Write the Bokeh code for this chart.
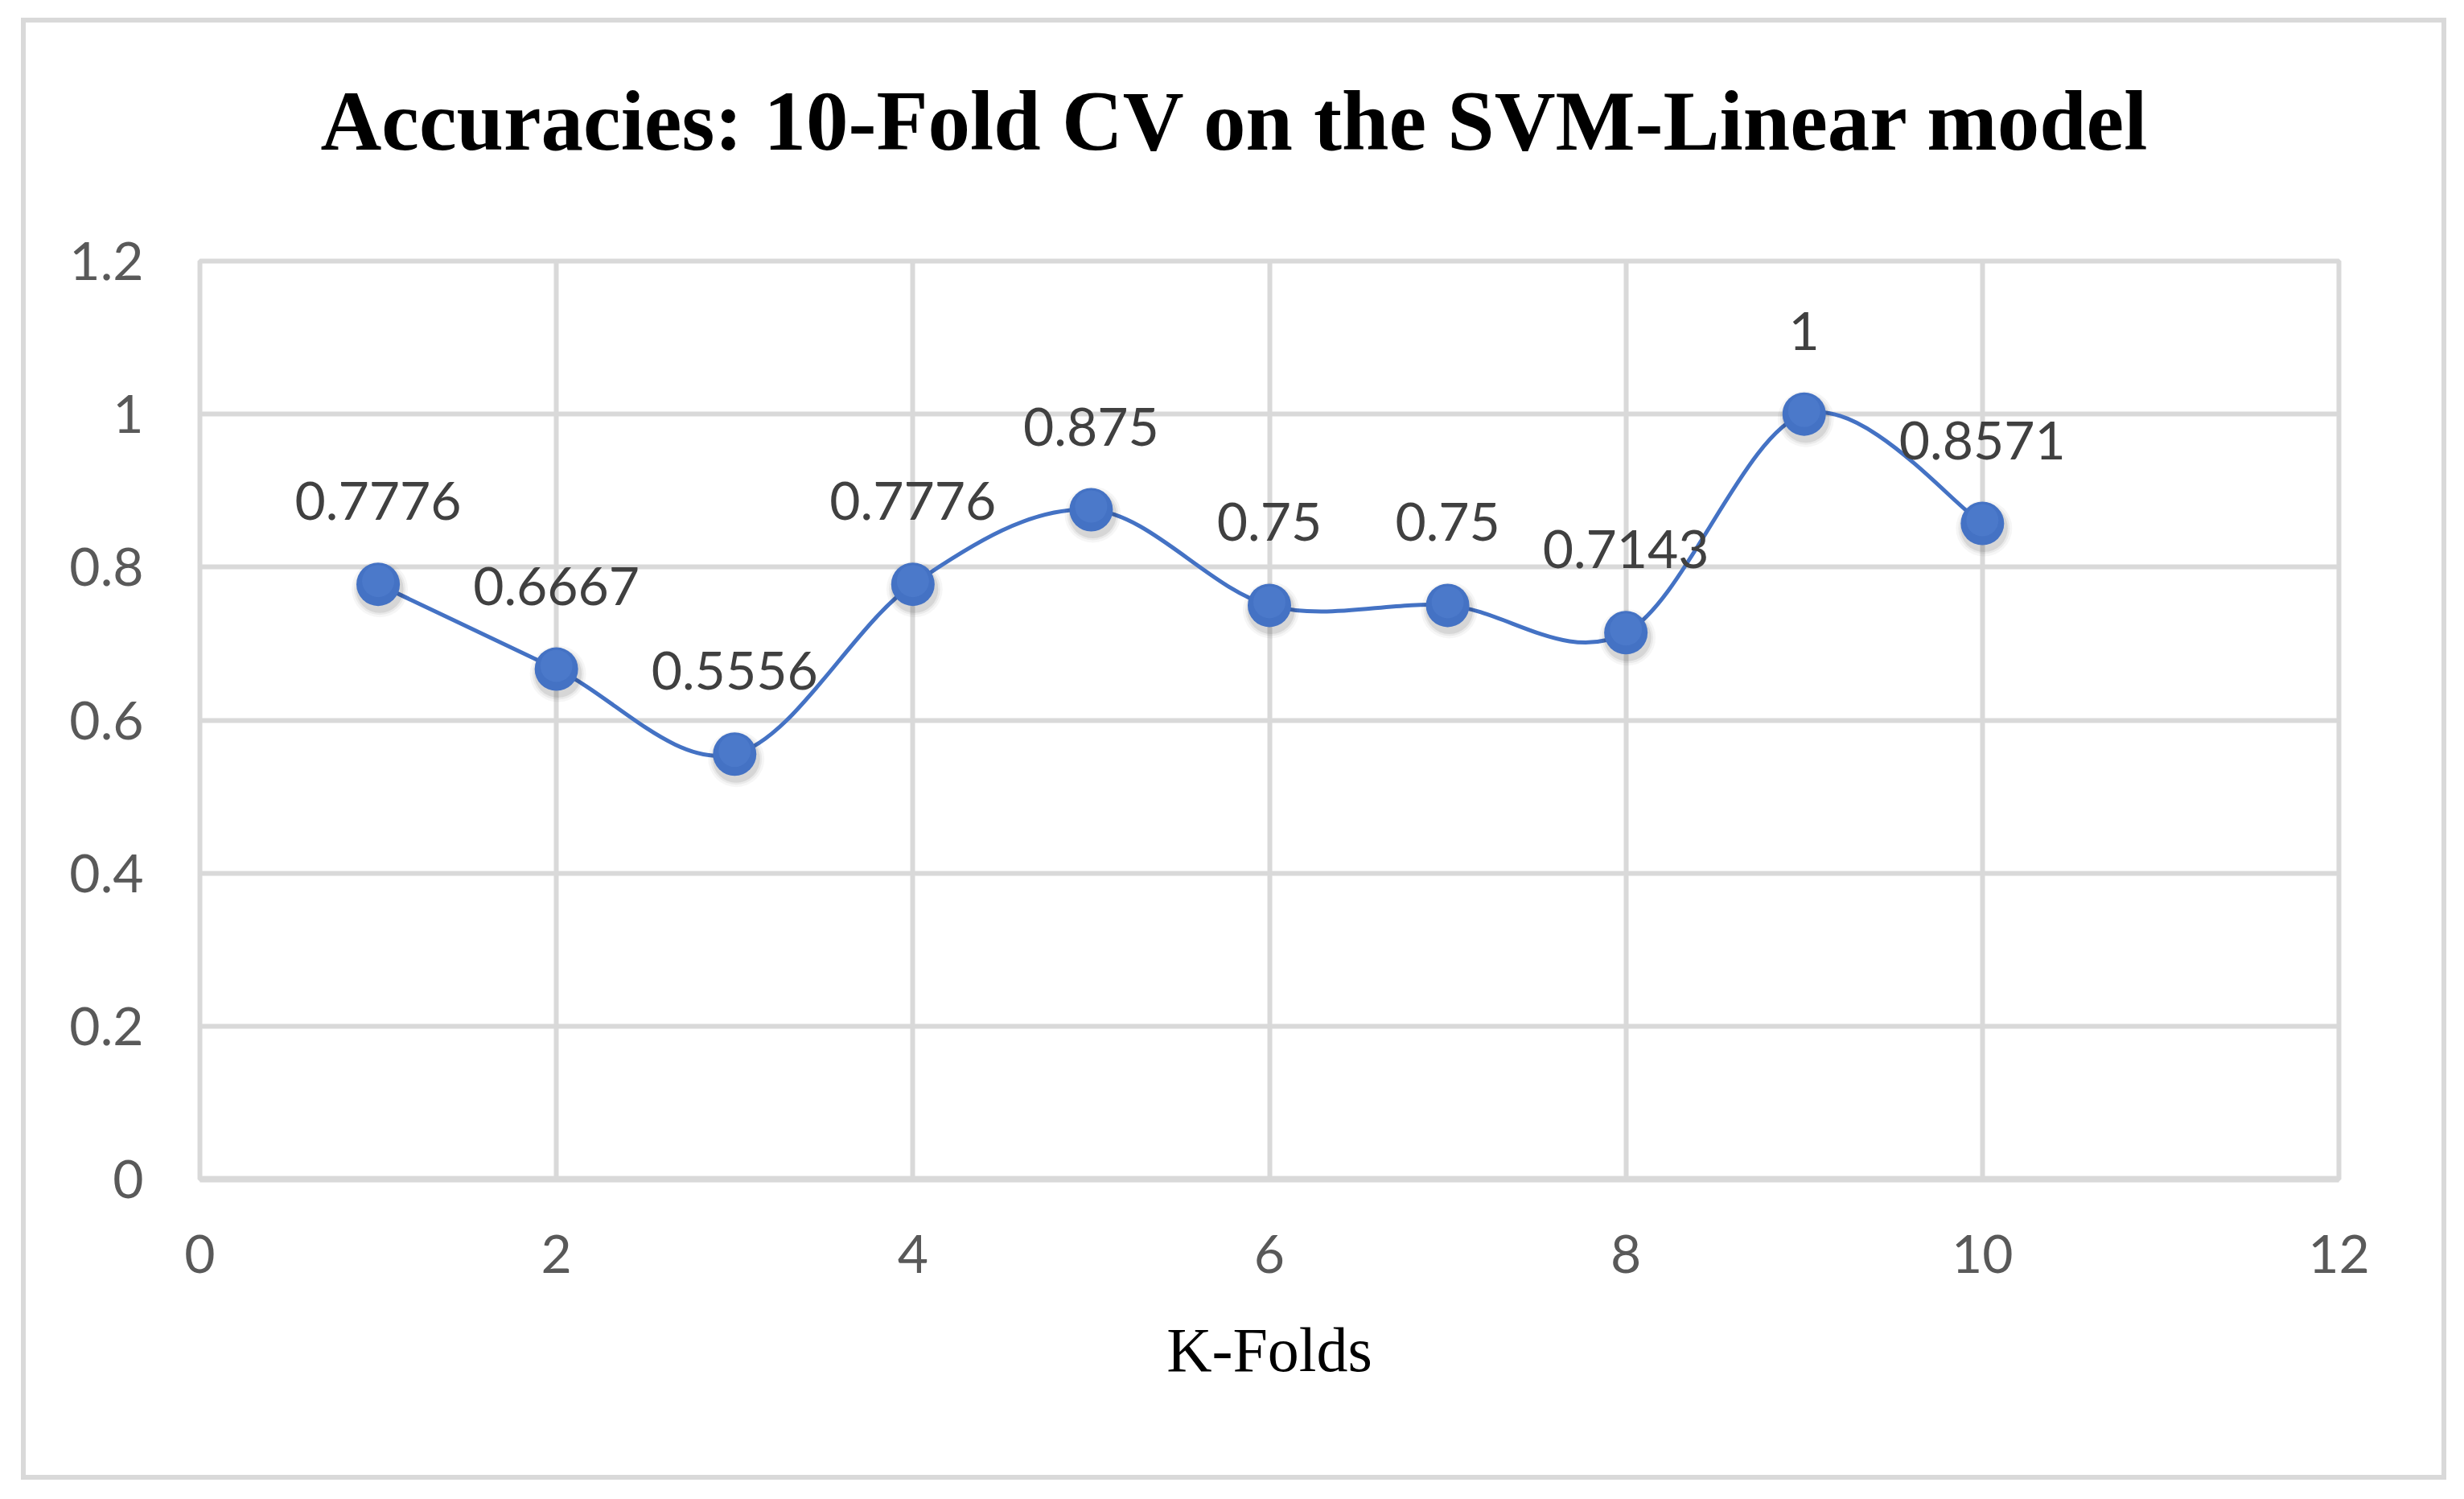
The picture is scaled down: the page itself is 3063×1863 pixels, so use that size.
from bokeh.plotting import figure
from bokeh.layouts import column
from bokeh.models import ColumnDataSource, LabelSet, FixedTicker, Range1d, Title
from bokeh.core.properties import value
from bokeh.embed import file_html
from bokeh.resources import INLINE

# ---- data ----
folds = [1, 2, 3, 4, 5, 6, 7, 8, 9, 10]
accuracy = [0.7776, 0.6667, 0.5556, 0.7776, 0.875, 0.75, 0.75, 0.7143, 1.0, 0.8571]
x_ticks = [0, 2, 4, 6, 8, 10, 12]
y_ticks = [0, 0.2, 0.4, 0.6, 0.8, 1.0, 1.2]
title_text = "Accuracies: 10-Fold CV on the SVM-Linear model"
x_title = "K-Folds"

W, H = 3003, 1805
FL, FR, FT, FB = 216, 2875, 296, 1437  # frame edges in canvas px

p = figure(width=W, height=H, output_backend="svg", toolbar_location=None,
           x_range=Range1d(0, 12), y_range=Range1d(0, 1.2),
           min_border_left=FL, min_border_right=W - FR,
           min_border_top=FT, min_border_bottom=H - FB,
           background_fill_color="white", border_fill_color="white")

# title
p.title.text = title_text
p.title.text_font = "Liberation Serif"
p.title.text_font_style = "bold"
p.title.text_font_size = "105px"
p.title.text_color = "#000000"
p.title.align = "left"
p.title.offset = 150
p.title.vertical_align = "bottom"
p.title.standoff = 0
# blank spacer between the frame and the title
p.add_layout(Title(text=" ", text_font_size="1px", standoff=113), "above")

# grid / outline
GRID = "#D9D9D9"
p.outline_line_color = GRID
p.outline_line_width = 6
p.xgrid.ticker = FixedTicker(ticks=x_ticks)
p.ygrid.ticker = FixedTicker(ticks=y_ticks)
for g in (p.xgrid, p.ygrid):
    g.grid_line_color = GRID
    g.grid_line_width = 6

# axes
for ax in (p.xaxis, p.yaxis):
    ax.major_tick_line_color = None
    ax.minor_tick_line_color = None
    ax.major_label_text_font = "Lato"
    ax.major_label_text_font_size = "66px"
    ax.major_label_text_color = "#595959"
p.xaxis.ticker = FixedTicker(ticks=x_ticks)
p.yaxis.ticker = FixedTicker(ticks=y_ticks)
p.xaxis.major_label_overrides = {t: f"{t:g}" for t in x_ticks}
p.yaxis.major_label_overrides = {t: f"{t:g}" for t in y_ticks}
p.xaxis.axis_line_color = GRID
p.xaxis.axis_line_width = 8
p.yaxis.axis_line_color = None
p.xaxis.major_label_standoff = 63
p.yaxis.major_label_standoff = 64
p.xaxis.axis_label = x_title
p.xaxis.axis_label_text_font = "Liberation Serif"
p.xaxis.axis_label_text_font_style = "normal"
p.xaxis.axis_label_text_font_size = "78px"
p.xaxis.axis_label_text_color = "#000000"
p.xaxis.axis_label_standoff = 49

# smoothed line (Catmull-Rom bezier segments built from the data)
n = len(folds)
seg = dict(x0=[], y0=[], x1=[], y1=[], cx0=[], cy0=[], cx1=[], cy1=[])
for i in range(n - 1):
    xm, ym = (folds[i - 1], accuracy[i - 1]) if i > 0 else (folds[i], accuracy[i])
    xp, yp = (folds[i + 2], accuracy[i + 2]) if i + 2 < n else (folds[i + 1], accuracy[i + 1])
    xa, ya, xb, yb = folds[i], accuracy[i], folds[i + 1], accuracy[i + 1]
    seg["x0"].append(xa); seg["y0"].append(ya)
    seg["x1"].append(xb); seg["y1"].append(yb)
    seg["cx0"].append(xa + (xb - xm) / 6); seg["cy0"].append(ya + (yb - ym) / 6)
    seg["cx1"].append(xb - (xp - xa) / 6); seg["cy1"].append(yb - (yp - ya) / 6)
p.bezier(x0="x0", y0="y0", x1="x1", y1="y1", cx0="cx0", cy0="cy0", cx1="cx1", cy1="cy1",
         source=ColumnDataSource(seg), line_color="#4472C4", line_width=5)

# markers with soft shadow
px_x = 12 / (FR - FL)
px_y = 1.2 / (FB - FT)
for size, alpha in ((70, 0.035), (64, 0.05), (59, 0.08)):
    p.scatter([f + 2 * px_x for f in folds], [a - 6 * px_y for a in accuracy],
              size=size, fill_color="#000000", fill_alpha=alpha, line_color=None)
p.scatter(folds, accuracy, size=54, fill_color="#4472C4", line_color=None)
p.scatter(folds, [a + 4 * px_y for a in accuracy], size=40,
          fill_color="#5A86D6", fill_alpha=0.35, line_color=None)

# data labels
lab_src = ColumnDataSource(dict(x=folds, y=accuracy, t=[f"{a:g}" for a in accuracy]))
p.add_layout(LabelSet(x="x", y="y", text="t", source=lab_src, y_offset=80,
                      text_align="center", text_baseline="alphabetic",
                      text_font=value("Lato"), text_font_size=value("66px"),
                      text_color=value("#404040")))

# outer chart border around the figure
layout = column(p, margin=(22, 0, 0, 26), styles={"border": "6px solid #D9D9D9"})

open("out.html", "w").write(file_html(layout, INLINE))
